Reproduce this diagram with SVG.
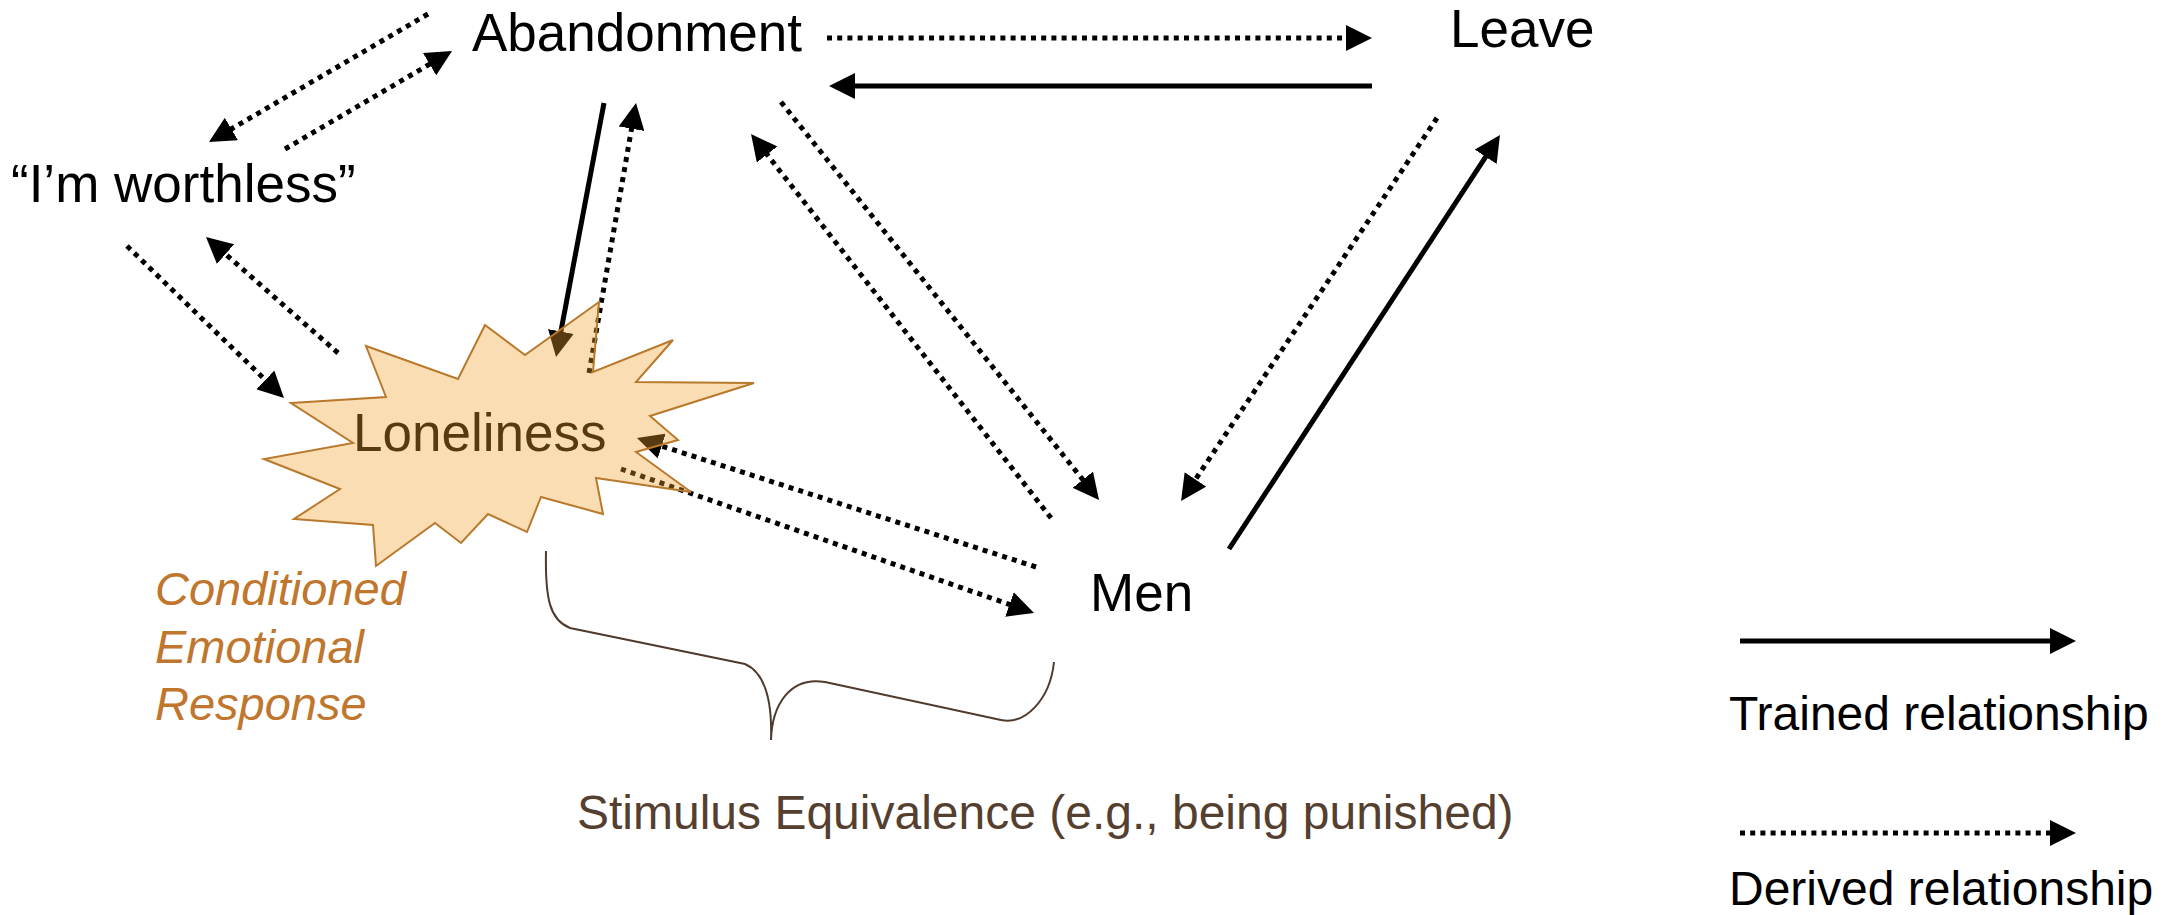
<svg xmlns="http://www.w3.org/2000/svg" width="2162" height="915" viewBox="0 0 2162 915">
  <style>
    .lbl { font-family: "Liberation Sans", Arial, sans-serif; font-size: 53px; fill: #000; }
    .note { font-family: "Liberation Sans", Arial, sans-serif; font-size: 48px; }
    .cer { font-family: "Liberation Sans", Arial, sans-serif; font-size: 47px; font-style: italic; fill: #c0762c; }
    .solid { stroke: #000; stroke-width: 5; fill: none; marker-end: url(#ah); }
    .dot { stroke: #000; stroke-width: 5; stroke-dasharray: 5 5.2; fill: none; marker-end: url(#ah); }
  </style>
  <defs>
    <marker id="ah" viewBox="0 0 26 26" markerWidth="26" markerHeight="26" refX="16" refY="13" markerUnits="userSpaceOnUse" orient="auto">
      <path d="M0,0 L26,13 L0,26 Z" fill="#000"/>
    </marker>
  </defs>
  <rect width="2162" height="915" fill="#fff"/>

  <g id="connectors">
    <line class="dot" x1="428" y1="14" x2="217.6" y2="137"/>
    <line class="dot" x1="285" y1="149" x2="443.4" y2="56.1"/>
    <line class="dot" x1="127" y1="246" x2="276.8" y2="391"/>
    <line class="dot" x1="338" y1="353" x2="213.5" y2="243.6"/>
    <line class="solid" x1="604" y1="103" x2="557.9" y2="347.2"/>
    <line class="dot" x1="589" y1="373" x2="634.3" y2="112.9"/>
    <line class="dot" x1="827" y1="38" x2="1362" y2="38"/>
    <line class="solid" x1="1372" y1="86" x2="839" y2="86"/>
    <line class="dot" x1="781" y1="102" x2="1092.8" y2="492.2"/>
    <line class="dot" x1="1051" y1="518" x2="757.2" y2="141.9"/>
    <line class="dot" x1="1437" y1="118" x2="1186.6" y2="492.7"/>
    <line class="solid" x1="1229" y1="549" x2="1494.5" y2="143.4"/>
    <line class="dot" x1="1036" y1="567" x2="646.5" y2="441.1"/>
    <line class="dot" x1="621" y1="469" x2="1024.6" y2="609.7"/>
  </g>

  <g id="node-abandonment">
    <text class="lbl" x="472" y="51">Abandonment</text>
  </g>
  <g id="node-leave">
    <text class="lbl" x="1450" y="47">Leave</text>
  </g>
  <g id="node-worthless">
    <text class="lbl" x="11" y="202">“I’m worthless”</text>
  </g>
  <g id="node-loneliness">
    <polygon points="291,403 386,397 366,346 458,379 485,325 525,355 599,302 593,372 673,340 636,382 754,383 650,416 678,440 636,452 691,492 596,478 603,514 541,497 527,532 488,514 461,543 435,523 376,566 373,525 294,519 340,489 264,459 353,443"
             fill="#f4a12c" fill-opacity="0.36" stroke="#b8792c" stroke-width="2" stroke-linejoin="miter"/>
    <text class="lbl" x="353" y="451" style="fill:#583a10">Loneliness</text>
  </g>
  <g id="node-men">
    <text class="lbl" x="1090" y="611">Men</text>
  </g>

  <g id="cer-label">
    <text class="cer" x="155" y="605">Conditioned</text>
    <text class="cer" x="155" y="663">Emotional</text>
    <text class="cer" x="155" y="720">Response</text>
  </g>

  <g id="stimulus-equivalence">
    <path d="M546,551 C545,600 550,620 570,628 L745,664 C768,674 772,710 771,740 C772,705 790,676 825,682 L1001,720 C1025,725 1050,700 1054,662" fill="none" stroke="#4f3b2e" stroke-width="2"/>
    <text class="note" x="577" y="829" fill="#55402f">Stimulus Equivalence (e.g., being punished)</text>
  </g>

  <g id="legend">
    <line class="solid" x1="1740" y1="641" x2="2066" y2="641"/>
    <text class="note" x="1729" y="730" fill="#000">Trained relationship</text>
    <line class="dot" x1="1740" y1="833" x2="2066" y2="833"/>
    <text class="note" x="1729" y="905" fill="#000">Derived relationship</text>
  </g>
</svg>
